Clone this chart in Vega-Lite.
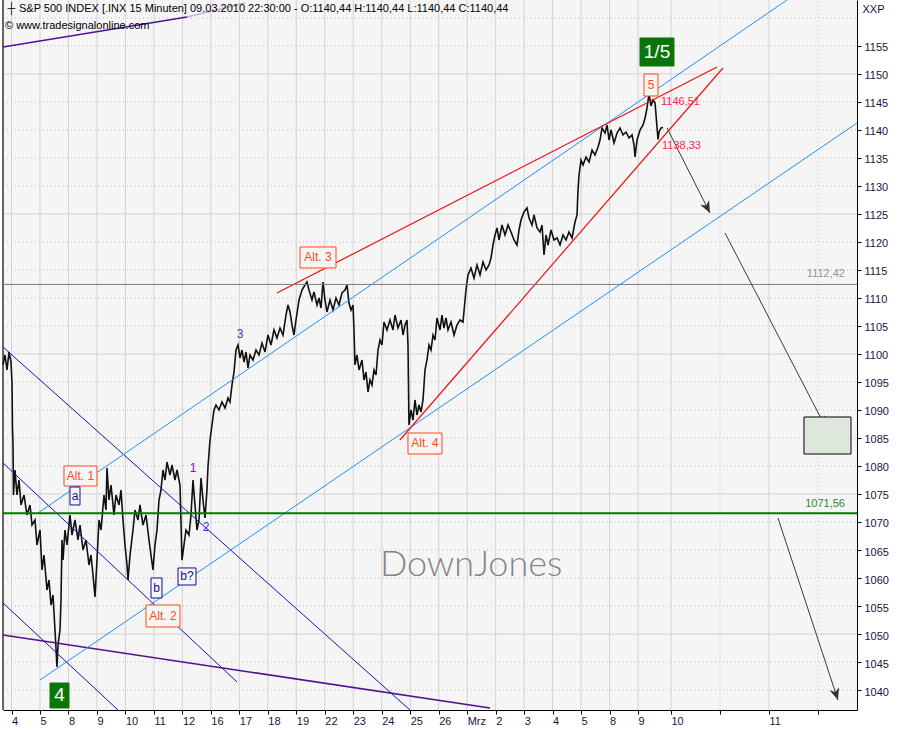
{
"$schema": "https://vega.github.io/schema/vega-lite/v6.json",
"width": 854, "height": 710,
"autosize": {"type": "none"},
"padding": {"left": 3, "right": 43, "top": 0, "bottom": 20},
"background": "#ffffff",
"config": {"view": {"stroke": null, "fill": "#f5f5f5"}, "text": {"font": "Liberation Sans"}},
"datasets": {
"price": [
{"t":-0.298,"v":1098.04},{"t":-0.228,"v":1099.82},{"t":-0.158,"v":1097.14},{"t":-0.088,"v":1100.36},{"t":-0.018,"v":1098.57},{"t":0.018,"v":1094.82},{"t":0.035,"v":1086.79},{"t":0.053,"v":1083.75},{"t":0.070,"v":1074.82},{"t":0.123,"v":1079.29},
{"t":0.193,"v":1074.82},{"t":0.263,"v":1077.5},{"t":0.334,"v":1073.04},{"t":0.439,"v":1074.82},{"t":0.544,"v":1071.25},{"t":0.650,"v":1073.04},{"t":0.720,"v":1069.46},{"t":0.825,"v":1070.36},{"t":0.895,"v":1065.89},{"t":1.001,"v":1068.57},
{"t":1.071,"v":1061.43},{"t":1.141,"v":1064.11},{"t":1.246,"v":1057.86},{"t":1.317,"v":1059.64},{"t":1.387,"v":1055.18},{"t":1.457,"v":1056.96},{"t":1.527,"v":1050.71},{"t":1.598,"v":1044.11},{"t":1.633,"v":1048.04},{"t":1.703,"v":1050.71},
{"t":1.738,"v":1056.07},{"t":1.773,"v":1066.79},{"t":1.808,"v":1063.21},{"t":1.878,"v":1068.57},{"t":1.949,"v":1065.89},{"t":2.054,"v":1071.25},{"t":2.124,"v":1067.68},{"t":2.229,"v":1070.36},{"t":2.335,"v":1066.79},{"t":2.405,"v":1069.46},
{"t":2.511,"v":1065.0},{"t":2.616,"v":1066.79},{"t":2.721,"v":1062.32},{"t":2.791,"v":1064.11},{"t":2.862,"v":1060.54},{"t":2.932,"v":1056.61},{"t":3.002,"v":1063.21},{"t":3.072,"v":1070.36},{"t":3.143,"v":1068.57},{"t":3.248,"v":1074.82},
{"t":3.318,"v":1072.14},{"t":3.353,"v":1079.64},{"t":3.423,"v":1073.93},{"t":3.494,"v":1076.61},{"t":3.599,"v":1071.25},{"t":3.669,"v":1074.82},{"t":3.775,"v":1073.04},{"t":3.845,"v":1075.71},{"t":3.915,"v":1070.36},{"t":3.985,"v":1065.89},
{"t":4.056,"v":1062.32},{"t":4.091,"v":1059.64},{"t":4.161,"v":1064.11},{"t":4.266,"v":1068.57},{"t":4.336,"v":1072.14},{"t":4.442,"v":1070.36},{"t":4.512,"v":1073.04},{"t":4.617,"v":1069.46},{"t":4.723,"v":1071.25},{"t":4.828,"v":1066.79},
{"t":4.898,"v":1064.11},{"t":4.968,"v":1061.43},{"t":5.039,"v":1065.89},{"t":5.109,"v":1068.57},{"t":5.179,"v":1073.93},{"t":5.249,"v":1075.71},{"t":5.319,"v":1079.29},{"t":5.390,"v":1077.5},{"t":5.460,"v":1080.71},{"t":5.565,"v":1078.39},
{"t":5.635,"v":1080.18},{"t":5.741,"v":1077.5},{"t":5.811,"v":1079.29},{"t":5.916,"v":1076.61},{"t":5.986,"v":1063.21},{"t":6.057,"v":1065.89},{"t":6.127,"v":1068.57},{"t":6.232,"v":1067.68},{"t":6.302,"v":1071.25},{"t":6.373,"v":1077.5},
{"t":6.443,"v":1073.04},{"t":6.513,"v":1068.57},{"t":6.583,"v":1070.36},{"t":6.654,"v":1077.86},{"t":6.724,"v":1073.93},{"t":6.794,"v":1070.71},{"t":6.864,"v":1075.71},{"t":6.899,"v":1079.82},{"t":6.970,"v":1084.64},{"t":7.040,"v":1087.32},
{"t":7.110,"v":1090.0},{"t":7.180,"v":1090.89},{"t":7.286,"v":1090.0},{"t":7.391,"v":1091.43},{"t":7.497,"v":1090.36},{"t":7.602,"v":1092.14},{"t":7.672,"v":1091.43},{"t":7.742,"v":1094.46},{"t":7.813,"v":1096.79},{"t":7.883,"v":1100.71},
{"t":7.953,"v":1101.61},{"t":8.023,"v":1099.29},{"t":8.093,"v":1100.71},{"t":8.164,"v":1098.57},{"t":8.234,"v":1100.36},{"t":8.304,"v":1097.5},{"t":8.374,"v":1099.82},{"t":8.480,"v":1098.93},{"t":8.585,"v":1100.71},{"t":8.690,"v":1099.82},
{"t":8.796,"v":1101.96},{"t":8.901,"v":1100.36},{"t":9.006,"v":1103.39},{"t":9.112,"v":1101.61},{"t":9.217,"v":1104.29},{"t":9.322,"v":1102.86},{"t":9.428,"v":1104.64},{"t":9.533,"v":1103.39},{"t":9.638,"v":1106.96},{"t":9.709,"v":1108.75},
{"t":9.779,"v":1107.5},{"t":9.849,"v":1105.18},{"t":9.919,"v":1103.39},{"t":9.989,"v":1106.07},{"t":10.095,"v":1109.64},{"t":10.200,"v":1111.43},{"t":10.305,"v":1112.32},{"t":10.375,"v":1112.86},{"t":10.446,"v":1111.43},{"t":10.551,"v":1109.64},
{"t":10.621,"v":1111.07},{"t":10.727,"v":1108.75},{"t":10.797,"v":1110.0},{"t":10.867,"v":1108.21},{"t":10.937,"v":1112.86},{"t":11.008,"v":1109.64},{"t":11.078,"v":1107.5},{"t":11.183,"v":1109.64},{"t":11.289,"v":1107.86},{"t":11.394,"v":1110.0},
{"t":11.499,"v":1108.75},{"t":11.605,"v":1110.89},{"t":11.710,"v":1111.43},{"t":11.780,"v":1112.32},{"t":11.850,"v":1109.11},{"t":11.921,"v":1107.86},{"t":11.991,"v":1108.75},{"t":12.026,"v":1104.29},{"t":12.061,"v":1098.04},{"t":12.131,"v":1099.82},
{"t":12.202,"v":1097.14},{"t":12.307,"v":1098.93},{"t":12.377,"v":1095.36},{"t":12.447,"v":1096.79},{"t":12.518,"v":1093.21},{"t":12.588,"v":1095.36},{"t":12.658,"v":1094.46},{"t":12.728,"v":1097.14},{"t":12.799,"v":1096.25},{"t":12.869,"v":1100.71},
{"t":12.939,"v":1102.5},{"t":13.009,"v":1101.61},{"t":13.079,"v":1105.71},{"t":13.185,"v":1104.29},{"t":13.290,"v":1106.07},{"t":13.396,"v":1104.29},{"t":13.466,"v":1106.96},{"t":13.571,"v":1104.64},{"t":13.677,"v":1106.07},{"t":13.747,"v":1103.39},
{"t":13.817,"v":1105.18},{"t":13.887,"v":1106.07},{"t":13.922,"v":1101.61},{"t":13.957,"v":1087.32},{"t":14.028,"v":1090.0},{"t":14.098,"v":1088.21},{"t":14.168,"v":1091.79},{"t":14.238,"v":1089.11},{"t":14.309,"v":1090.89},{"t":14.379,"v":1089.64},
{"t":14.449,"v":1091.79},{"t":14.519,"v":1097.14},{"t":14.589,"v":1098.93},{"t":14.660,"v":1101.61},{"t":14.730,"v":1100.71},{"t":14.800,"v":1103.39},{"t":14.870,"v":1102.5},{"t":14.940,"v":1106.43},{"t":15.046,"v":1104.29},{"t":15.116,"v":1106.96},
{"t":15.186,"v":1104.64},{"t":15.257,"v":1106.43},{"t":15.327,"v":1104.29},{"t":15.432,"v":1105.71},{"t":15.538,"v":1103.39},{"t":15.643,"v":1105.18},{"t":15.748,"v":1106.07},{"t":15.854,"v":1105.71},{"t":15.924,"v":1109.64},{"t":15.959,"v":1111.43},
{"t":16.029,"v":1114.11},{"t":16.135,"v":1115.36},{"t":16.240,"v":1113.57},{"t":16.345,"v":1115.89},{"t":16.451,"v":1114.11},{"t":16.556,"v":1116.43},{"t":16.662,"v":1115.0},{"t":16.767,"v":1115.89},{"t":16.837,"v":1117.14},{"t":16.907,"v":1119.46},
{"t":16.978,"v":1121.25},{"t":17.048,"v":1122.5},{"t":17.118,"v":1120.36},{"t":17.223,"v":1123.04},{"t":17.329,"v":1121.25},{"t":17.434,"v":1123.04},{"t":17.539,"v":1121.79},{"t":17.645,"v":1120.36},{"t":17.750,"v":1119.46},{"t":17.821,"v":1122.14},
{"t":17.891,"v":1123.93},{"t":17.996,"v":1125.36},{"t":18.101,"v":1126.07},{"t":18.172,"v":1124.29},{"t":18.277,"v":1123.04},{"t":18.347,"v":1124.82},{"t":18.452,"v":1122.5},{"t":18.558,"v":1121.79},{"t":18.628,"v":1123.04},{"t":18.698,"v":1117.68},
{"t":18.768,"v":1121.25},{"t":18.839,"v":1119.46},{"t":18.944,"v":1122.14},{"t":19.049,"v":1120.36},{"t":19.155,"v":1120.71},{"t":19.260,"v":1119.46},{"t":19.366,"v":1121.25},{"t":19.471,"v":1120.36},{"t":19.576,"v":1121.79},{"t":19.682,"v":1120.71},
{"t":19.787,"v":1123.57},{"t":19.857,"v":1124.82},{"t":19.892,"v":1129.29},{"t":19.927,"v":1131.96},{"t":19.998,"v":1134.64},{"t":20.068,"v":1133.75},{"t":20.173,"v":1135.18},{"t":20.279,"v":1134.29},{"t":20.384,"v":1136.43},{"t":20.489,"v":1135.54},
{"t":20.595,"v":1136.96},{"t":20.665,"v":1138.21},{"t":20.735,"v":1140.36},{"t":20.841,"v":1139.46},{"t":20.911,"v":1140.89},{"t":20.981,"v":1138.21},{"t":21.051,"v":1140.0},{"t":21.157,"v":1137.68},{"t":21.262,"v":1139.46},{"t":21.367,"v":1140.36},
{"t":21.473,"v":1139.11},{"t":21.578,"v":1139.64},{"t":21.684,"v":1138.57},{"t":21.789,"v":1139.11},{"t":21.859,"v":1137.32},{"t":21.894,"v":1135.18},{"t":21.965,"v":1138.21},{"t":22.070,"v":1140.0},{"t":22.175,"v":1140.89},{"t":22.246,"v":1142.14},
{"t":22.316,"v":1143.93},{"t":22.386,"v":1146.51},{"t":22.456,"v":1144.29},{"t":22.527,"v":1145.36},{"t":22.597,"v":1144.82},{"t":22.632,"v":1142.68},{"t":22.667,"v":1140.36},{"t":22.702,"v":1138.33},{"t":22.737,"v":1139.64},{"t":22.807,"v":1140.36},
{"t":22.877,"v":1140.44}
],
"gridHsolid": [
{"t":-0.2985,"t2":29.688,"v":1050},{"t":-0.2985,"t2":29.688,"v":1075},{"t":-0.2985,"t2":29.688,"v":1100},{"t":-0.2985,"t2":29.688,"v":1125},{"t":-0.2985,"t2":29.688,"v":1150}
],
"gridHdot": [
{"t":-0.2985,"t2":29.688,"v":1040},{"t":-0.2985,"t2":29.688,"v":1045},{"t":-0.2985,"t2":29.688,"v":1055},{"t":-0.2985,"t2":29.688,"v":1060},{"t":-0.2985,"t2":29.688,"v":1065},
{"t":-0.2985,"t2":29.688,"v":1070},{"t":-0.2985,"t2":29.688,"v":1080},{"t":-0.2985,"t2":29.688,"v":1085},{"t":-0.2985,"t2":29.688,"v":1090},{"t":-0.2985,"t2":29.688,"v":1095},
{"t":-0.2985,"t2":29.688,"v":1105},{"t":-0.2985,"t2":29.688,"v":1110},{"t":-0.2985,"t2":29.688,"v":1115},{"t":-0.2985,"t2":29.688,"v":1120},{"t":-0.2985,"t2":29.688,"v":1130},
{"t":-0.2985,"t2":29.688,"v":1135},{"t":-0.2985,"t2":29.688,"v":1140},{"t":-0.2985,"t2":29.688,"v":1145},{"t":-0.2985,"t2":29.688,"v":1155},{"t":-0.2985,"t2":29.688,"v":1160}
],
"gridVsolid": [
{"t":0,"v":1036.43,"v2":1163.21},{"t":1,"v":1036.43,"v2":1163.21},{"t":2,"v":1036.43,"v2":1163.21},{"t":3,"v":1036.43,"v2":1163.21},{"t":4,"v":1036.43,"v2":1163.21},
{"t":5,"v":1036.43,"v2":1163.21},{"t":6,"v":1036.43,"v2":1163.21},{"t":7,"v":1036.43,"v2":1163.21},{"t":8,"v":1036.43,"v2":1163.21},{"t":9,"v":1036.43,"v2":1163.21},
{"t":10,"v":1036.43,"v2":1163.21},{"t":11,"v":1036.43,"v2":1163.21},{"t":12,"v":1036.43,"v2":1163.21},{"t":13,"v":1036.43,"v2":1163.21},{"t":14,"v":1036.43,"v2":1163.21},
{"t":15,"v":1036.43,"v2":1163.21},{"t":16,"v":1036.43,"v2":1163.21},{"t":17,"v":1036.43,"v2":1163.21},{"t":18,"v":1036.43,"v2":1163.21},{"t":19,"v":1036.43,"v2":1163.21},
{"t":20,"v":1036.43,"v2":1163.21},{"t":21,"v":1036.43,"v2":1163.21},{"t":22,"v":1036.43,"v2":1163.21},{"t":23.157,"v":1036.43,"v2":1163.21},{"t":26.598,"v":1036.43,"v2":1163.21}
],
"gridVdot": [
{"t":24.877,"v":1036.43,"v2":1163.21},{"t":28.318,"v":1036.43,"v2":1163.21}
],
"segs": [
{"id":"fr","kind":"frame","t":-0.2985,"v":1036.43},{"id":"fr","kind":"frame","t":-0.2985,"v":1163.21},
{"id":"p1","kind":"purple","t":-0.298,"v":1154.82},{"id":"p1","kind":"purple","t":6.162,"v":1160.18},
{"id":"p1l","kind":"purplelight","t":6.162,"v":1160.18},{"id":"p1l","kind":"purplelight","t":8.199,"v":1162.68},
{"id":"p2","kind":"purple","t":-0.298,"v":1049.82},{"id":"p2","kind":"purple","t":16.801,"v":1036.79},
{"id":"n1","kind":"navy","t":-0.298,"v":1101.25},{"id":"n1","kind":"navy","t":13.992,"v":1036.43},
{"id":"n2","kind":"navy","t":-0.298,"v":1080.54},{"id":"n2","kind":"navy","t":7.918,"v":1041.43},
{"id":"n3","kind":"navy","t":-0.298,"v":1055.54},{"id":"n3","kind":"navy","t":3.740,"v":1036.43},
{"id":"b1","kind":"lightblue","t":0.930,"v":1071.61},{"id":"b1","kind":"lightblue","t":27.230,"v":1163.21},
{"id":"b2","kind":"lightblue","t":1.001,"v":1041.79},{"id":"b2","kind":"lightblue","t":29.688,"v":1141.25},
{"id":"r1","kind":"red","t":9.322,"v":1110.89},{"id":"r1","kind":"red","t":24.772,"v":1151.25},
{"id":"r2","kind":"red","t":13.640,"v":1084.64},{"id":"r2","kind":"red","t":24.982,"v":1151.07},
{"id":"g1","kind":"grey","t":-0.2985,"v":1112.42},{"id":"g1","kind":"grey","t":29.688,"v":1112.42},
{"id":"gr","kind":"green","t":-0.2985,"v":1071.56},{"id":"gr","kind":"green","t":29.688,"v":1071.56},
{"id":"a1","kind":"arrow","t":23.016,"v":1140.36},{"id":"a1","kind":"arrow","t":24.526,"v":1125.18},
{"id":"a2","kind":"arrow","t":25.053,"v":1121.61},{"id":"a2","kind":"arrow","t":28.600,"v":1086.79},
{"id":"a3","kind":"arrow","t":26.913,"v":1070.71},{"id":"a3","kind":"arrow","t":29.020,"v":1038.21}
],
"boxes": [
{"label":"Alt. 1","kind":"alt","t":1.843,"t2":3.002,"v":1080.0,"v2":1076.43},
{"label":"a","kind":"nav","t":2.054,"t2":2.405,"v":1076.25,"v2":1073.04},
{"label":"Alt. 2","kind":"alt","t":4.723,"t2":5.916,"v":1055.18,"v2":1051.25},
{"label":"b","kind":"nav","t":4.898,"t2":5.284,"v":1060.0,"v2":1056.43},
{"label":"b?","kind":"nav","t":5.846,"t2":6.478,"v":1061.79,"v2":1058.75},
{"label":"Alt. 3","kind":"alt","t":10.130,"t2":11.394,"v":1119.11,"v2":1115.36},
{"label":"Alt. 4","kind":"alt","t":13.922,"t2":15.116,"v":1085.89,"v2":1082.14},
{"label":"5","kind":"alt","t":22.209,"t2":22.700,"v":1150.0,"v2":1146.07},
{"label":"1/5","kind":"green","t":22.069,"t2":23.262,"v":1156.43,"v2":1151.43},
{"label":"4","kind":"green","t":1.352,"t2":2.019,"v":1041.25,"v2":1036.79},
{"label":"target","kind":"target","t":27.826,"t2":29.477,"v":1088.75,"v2":1082.14}
],
"boxlabels": [
{"label":"Alt. 1","kind":"alt","t":2.423,"v":1078.21},
{"label":"a","kind":"nav","t":2.230,"v":1074.64},
{"label":"Alt. 2","kind":"alt","t":5.320,"v":1053.21},
{"label":"b","kind":"nav","t":5.091,"v":1058.21},
{"label":"b?","kind":"nav","t":6.162,"v":1060.27},
{"label":"Alt. 3","kind":"alt","t":10.762,"v":1117.23},
{"label":"Alt. 4","kind":"alt","t":14.519,"v":1084.02},
{"label":"5","kind":"alt","t":22.454,"v":1148.04},
{"label":"1/5","kind":"green","t":22.665,"v":1153.93},
{"label":"4","kind":"green","t":1.685,"v":1039.02}
],
"notes": [
{"label":"1","kind":"purple","t":6.373,"v":1079.64},
{"label":"2","kind":"blue","t":6.829,"v":1069.11},
{"label":"3","kind":"blue","t":8.023,"v":1103.57}
],
"levels": [
{"label":"1146,51","kind":"red","t":22.806,"v":1145.0},
{"label":"1138,33","kind":"red","t":22.841,"v":1137.14}
],
"levelsR": [
{"label":"1112,42","kind":"grey","t":29.266,"v":1114.29},
{"label":"1071,56","kind":"green","t":29.266,"v":1073.21}
],
"heads": [
{"id":"a1","t":24.526,"v":1125.18},
{"id":"a2","t":28.600,"v":1086.79},
{"id":"a3","t":29.020,"v":1038.21}
],
"header": [
{"label":"┼","t":-0.140,"v":1161.61},
{"label":"S&P 500 INDEX [.INX  15 Minuten] 09.03.2010 22:30:00 - O:1140,44 H:1140,44 L:1140,44 C:1140,44","t":0.263,"v":1161.61},
{"label":"© www.tradesignalonline.com","t":-0.228,"v":1158.57}
],
"brand": [{"label":"DownJones","t":16.138,"v":1062.32}]
},
"encoding": {
"x": {"field": "t", "type": "quantitative", "scale": {"domain": [-0.2985, 29.688], "nice": false, "zero": false},
"axis": {"values": [0,1,2,3,4,5,6,7,8,9,10,11,12,13,14,15,16,17,18,19,20,21,22,23.157,24.877,26.598,28.318],
"labelExpr": "['4','5','8','9','10','11','12','16','17','18','19','22','23','24','25','26','Mrz','2','3','4','5','8','9','10','','','','11',''][round(datum.value)]",
"labelAlign": "left", "labelPadding": 1, "tickSize": 4, "tickColor": "#000000", "domainColor": "#000000",
"labelFont": "Liberation Sans", "labelFontSize": 11, "labelColor": "#1c1240", "labelOverlap": false, "labelFlush": false,
"grid": false, "title": null}},
"y": {"field": "v", "type": "quantitative", "scale": {"domain": [1036.43, 1163.21], "nice": false, "zero": false},
"axis": {"orient": "right", "values": [1040,1045,1050,1055,1060,1065,1070,1075,1080,1085,1090,1095,1100,1105,1110,1115,1120,1125,1130,1135,1140,1145,1150,1155],
"format": "d", "tickSize": 4, "tickColor": "#000000", "labelPadding": 3, "labelOffset": 2,
"labelFont": "Liberation Sans", "labelFontSize": 11, "labelColor": "#1c1240", "labelOverlap": false, "labelFlush": false,
"domainColor": "#000000", "grid": false,
"title": "XXP", "titleAngle": 0, "titleAlign": "left", "titleBaseline": "top", "titleX": 5, "titleY": 3,
"titleFont": "Liberation Sans", "titleFontSize": 11, "titleFontWeight": "normal", "titleColor": "#1c1240"}}
},
"layer": [
{"data": {"name": "gridHsolid"}, "mark": {"type": "rule", "color": "#d2d2d2", "strokeWidth": 1}, "encoding": {"x2": {"field": "t2"}}},
{"data": {"name": "gridHdot"}, "mark": {"type": "rule", "color": "#bdbdbd", "strokeWidth": 1, "strokeDash": [1, 3]}, "encoding": {"x2": {"field": "t2"}}},
{"data": {"name": "gridVsolid"}, "mark": {"type": "rule", "color": "#d2d2d2", "strokeWidth": 1}, "encoding": {"y2": {"field": "v2"}}},
{"data": {"name": "gridVdot"}, "mark": {"type": "rule", "color": "#bdbdbd", "strokeWidth": 1, "strokeDash": [1, 3]}, "encoding": {"y2": {"field": "v2"}}},
{"data": {"name": "price"}, "mark": {"type": "line", "color": "#111111", "strokeWidth": 1.6}, "encoding": {}},
{"data": {"name": "segs"}, "transform": [{"filter": "datum.kind == 'frame'"}], "mark": {"type": "line", "color": "#000000", "strokeWidth": 1.2}, "encoding": {"detail": {"field": "id"}}},
{"data": {"name": "segs"}, "transform": [{"filter": "datum.kind == 'purple'"}], "mark": {"type": "line", "color": "#52128f", "strokeWidth": 1.5}, "encoding": {"detail": {"field": "id"}}},
{"data": {"name": "segs"}, "transform": [{"filter": "datum.kind == 'purplelight'"}], "mark": {"type": "line", "color": "#c8aee0", "strokeWidth": 1.5}, "encoding": {"detail": {"field": "id"}}},
{"data": {"name": "segs"}, "transform": [{"filter": "datum.kind == 'navy'"}], "mark": {"type": "line", "color": "#1414b4", "strokeWidth": 1}, "encoding": {"detail": {"field": "id"}}},
{"data": {"name": "segs"}, "transform": [{"filter": "datum.kind == 'lightblue'"}], "mark": {"type": "line", "color": "#1e8fff", "strokeWidth": 1}, "encoding": {"detail": {"field": "id"}}},
{"data": {"name": "segs"}, "transform": [{"filter": "datum.kind == 'red'"}], "mark": {"type": "line", "color": "#f01010", "strokeWidth": 1.2}, "encoding": {"detail": {"field": "id"}}},
{"data": {"name": "segs"}, "transform": [{"filter": "datum.kind == 'grey'"}], "mark": {"type": "line", "color": "#7c7c7c", "strokeWidth": 1}, "encoding": {"detail": {"field": "id"}}},
{"data": {"name": "segs"}, "transform": [{"filter": "datum.kind == 'green'"}], "mark": {"type": "line", "color": "#007800", "strokeWidth": 2}, "encoding": {"detail": {"field": "id"}}},
{"data": {"name": "segs"}, "transform": [{"filter": "datum.kind == 'arrow'"}], "mark": {"type": "line", "color": "#3a3a3a", "strokeWidth": 1}, "encoding": {"detail": {"field": "id"}}},
{"data": {"name": "heads"}, "transform": [{"filter": "datum.id == 'a1'"}], "mark": {"type": "point", "shape": "M0,0L-0.42,-1L0,-0.72L0.42,-1Z", "filled": true, "color": "#333333", "size": 560, "angle": 333, "opacity": 1}},
{"data": {"name": "heads"}, "transform": [{"filter": "datum.id == 'a2'"}], "mark": {"type": "point", "shape": "M0,0L-0.42,-1L0,-0.72L0.42,-1Z", "filled": true, "color": "#333333", "size": 560, "angle": 332.6, "opacity": 1}},
{"data": {"name": "heads"}, "transform": [{"filter": "datum.id == 'a3'"}], "mark": {"type": "point", "shape": "M0,0L-0.42,-1L0,-0.72L0.42,-1Z", "filled": true, "color": "#333333", "size": 560, "angle": 341.8, "opacity": 1}},
{"data": {"name": "boxes"}, "transform": [{"filter": "datum.kind == 'target'"}], "mark": {"type": "rect", "fill": "#dde7dc", "stroke": "#000000", "strokeWidth": 1}, "encoding": {"x2": {"field": "t2"}, "y2": {"field": "v2"}}},
{"data": {"name": "boxes"}, "transform": [{"filter": "datum.kind == 'alt'"}], "mark": {"type": "rect", "fill": "#f5f5f5", "stroke": "#ff4a14", "strokeWidth": 1}, "encoding": {"x2": {"field": "t2"}, "y2": {"field": "v2"}}},
{"data": {"name": "boxes"}, "transform": [{"filter": "datum.kind == 'nav'"}], "mark": {"type": "rect", "fill": "#f5f5f5", "stroke": "#10108a", "strokeWidth": 1}, "encoding": {"x2": {"field": "t2"}, "y2": {"field": "v2"}}},
{"data": {"name": "boxes"}, "transform": [{"filter": "datum.kind == 'green'"}], "mark": {"type": "rect", "fill": "#0a760a", "stroke": "#0a760a", "strokeWidth": 1}, "encoding": {"x2": {"field": "t2"}, "y2": {"field": "v2"}}},
{"data": {"name": "boxlabels"}, "transform": [{"filter": "datum.kind == 'alt'"}], "mark": {"type": "text", "font": "Liberation Sans", "fontSize": 12, "align": "center", "baseline": "middle", "color": "#ff4a14"}, "encoding": {"text": {"field": "label"}}},
{"data": {"name": "boxlabels"}, "transform": [{"filter": "datum.kind == 'nav'"}], "mark": {"type": "text", "font": "Liberation Sans", "fontSize": 12, "align": "center", "baseline": "middle", "color": "#10108a"}, "encoding": {"text": {"field": "label"}}},
{"data": {"name": "boxlabels"}, "transform": [{"filter": "datum.kind == 'green'"}], "mark": {"type": "text", "font": "Liberation Sans", "fontSize": 19, "align": "center", "baseline": "middle", "color": "#ffffff"}, "encoding": {"text": {"field": "label"}}},
{"data": {"name": "notes"}, "transform": [{"filter": "datum.kind == 'purple'"}], "mark": {"type": "text", "font": "Liberation Sans", "fontSize": 12, "align": "center", "baseline": "middle", "color": "#7a10d8"}, "encoding": {"text": {"field": "label"}}},
{"data": {"name": "notes"}, "transform": [{"filter": "datum.kind == 'blue'"}], "mark": {"type": "text", "font": "Liberation Sans", "fontSize": 12, "align": "center", "baseline": "middle", "color": "#3535ff"}, "encoding": {"text": {"field": "label"}}},
{"data": {"name": "levels"}, "mark": {"type": "text", "font": "Liberation Sans", "fontSize": 11, "align": "left", "baseline": "middle", "color": "#ff1f4a"}, "encoding": {"text": {"field": "label"}}},
{"data": {"name": "levelsR"}, "transform": [{"filter": "datum.kind == 'grey'"}], "mark": {"type": "text", "font": "Liberation Sans", "fontSize": 11, "align": "right", "baseline": "middle", "color": "#9a8ca6"}, "encoding": {"text": {"field": "label"}}},
{"data": {"name": "levelsR"}, "transform": [{"filter": "datum.kind == 'green'"}], "mark": {"type": "text", "font": "Liberation Sans", "fontSize": 11, "align": "right", "baseline": "middle", "color": "#2a8a36"}, "encoding": {"text": {"field": "label"}}},
{"data": {"name": "header"}, "mark": {"type": "text", "font": "Liberation Sans", "fontSize": 11, "align": "left", "baseline": "middle", "color": "#000000"}, "encoding": {"text": {"field": "label"}}},
{"data": {"name": "brand"}, "mark": {"type": "text", "font": "Lato", "fontWeight": 300, "fontSize": 36, "align": "center", "baseline": "middle", "color": "#858585"}, "encoding": {"text": {"field": "label"}}}
]
}
